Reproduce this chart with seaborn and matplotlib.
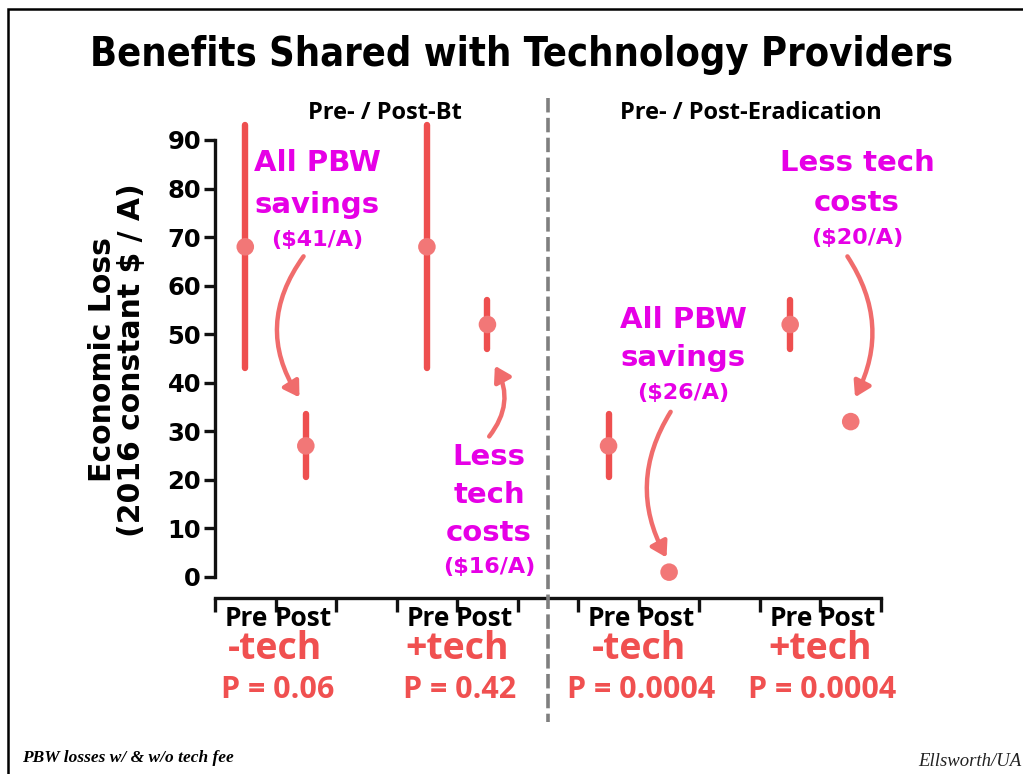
import matplotlib
matplotlib.use("Agg")
import matplotlib.pyplot as plt
import seaborn as sns
import pandas as pd
import numpy as np
from matplotlib.patches import FancyArrowPatch, Rectangle
from matplotlib.lines import Line2D

# ---- data -------------------------------------------------------------
periods = ["Pre- / Post-Bt", "Pre- / Post-Eradication"]
groups = ["-tech", "+tech", "-tech", "+tech"]
phases = ["Pre", "Post"]
loss_mean = [68, 27, 68, 52, 27, 1, 52, 32]
loss_err = [25, 6.5, 25, 5, 6.5, 0, 5, 0]
p_values = ["P = 0.06", "P = 0.42", "P = 0.0004", "P = 0.0004"]
y_ticks = [0, 10, 20, 30, 40, 50, 60, 70, 80, 90]

sns.set_theme(style="white")
plt.rcParams["font.family"] = ["DejaVu Sans"]
plt.rcParams["text.color"] = "black"
plt.rcParams["xtick.color"] = "black"
plt.rcParams["ytick.color"] = "black"

W, H = 1023, 774
fig = plt.figure(figsize=(W / 100, H / 100), dpi=100)

def fx(px):
    return px / W

def fy(py):
    return 1 - py / H

# axes placement: x from 215 to 881 px (0..11), y from 100 to 598 px
ax_left, ax_right, ax_top, ax_bot = 215, 881, 100, 598
ax = fig.add_axes([fx(ax_left), fy(ax_bot), (ax_right - ax_left) / W, (ax_bot - ax_top) / H])

px_per_unit = 4.856
ylo = -(ax_bot - 577) / px_per_unit
yhi = (577 - ax_top) / px_per_unit
ax.set_xlim(0, 11)
ax.set_ylim(ylo, yhi)

# x positions: each comparison occupies a block of three tick intervals
xpos = []
for g in range(len(groups)):
    for k in range(len(phases)):
        xpos.append(3 * g + 0.5 + k)

df = pd.DataFrame({
    "x": xpos,
    "loss": loss_mean,
    "err": loss_err,
})

bar_red = "#EE4F4F"
dot_red = "#F27777"

ax.vlines(df["x"], df["loss"] - df["err"], df["loss"] + df["err"],
          color=bar_red, lw=4.6, zorder=2, capstyle="round")
sns.scatterplot(data=df, x="x", y="loss", ax=ax, s=160, color=dot_red,
                edgecolor="none", zorder=3, legend=False)

# spines in the style of offset axes
for s in ["top", "right"]:
    ax.spines[s].set_visible(False)
ax.spines["left"].set_bounds(0, 90)
ax.spines["bottom"].set_bounds(0, 11)
for s in ["left", "bottom"]:
    ax.spines[s].set_linewidth(2.4)
    ax.spines[s].set_color("#111111")

ax.set_yticks(y_ticks)
ax.set_yticklabels([str(v) for v in y_ticks], fontsize=17.5, fontweight="bold")
ax.set_xticks(np.arange(0, 12))
ax.set_xticklabels([])
ax.tick_params(axis="y", direction="out", length=8, width=2.4, color="#111111", pad=2)
ax.tick_params(axis="x", direction="out", length=10, width=2.4, color="#111111")
ax.tick_params(left=True, bottom=True)
ax.set_xlabel("")
ax.set_ylabel("")
ax.patch.set_alpha(0)

# y-axis title
fig.text(fx(117), fy(360), "Economic Loss\n(2016 constant \\$ / A)", rotation=90,
         ha="center", va="center", fontsize=21.5, fontweight="bold", linespacing=1.0)

# title and period headers
cond_font = "Open Sans"
fig.text(fx(521), fy(55), "Benefits Shared with Technology Providers",
         ha="center", va="center", fontsize=28.5, fontweight="bold", fontstretch="condensed")
fig.text(fx(385), fy(113), periods[0], ha="center", va="center",
         fontsize=17, fontweight="bold", family=cond_font)
fig.text(fx(751), fy(113), periods[1], ha="center", va="center",
         fontsize=17, fontweight="bold", family=cond_font)

# divider between the two periods
fig.add_artist(Line2D([fx(548), fx(548)], [fy(98), fy(722)], color="#7f7f7f",
                      lw=2.6, ls=(0, (4, 1.5))))

# category labels under the axis
label_red = "#F05050"
for i, x in enumerate(xpos):
    px = ax_left + x * (ax_right - ax_left) / 11
    px += 1 if i % 2 == 0 else -3
    fig.text(fx(px), fy(619), phases[i % 2], ha="center", va="center",
             fontsize=19, fontweight="bold", family=cond_font)
for g, lab in enumerate(groups):
    cx = ax_left + (3 * g + 1) * (ax_right - ax_left) / 11
    fig.text(fx(cx), fy(649), lab, ha="center", va="center", color=label_red,
             fontsize=27, fontweight="bold", family=cond_font)
    fig.text(fx(cx + 2), fy(690), p_values[g], ha="center", va="center", color=label_red,
             fontsize=22, fontweight="bold", family=cond_font)

# magenta call-outs
mag = "#E600E6"
callouts = [
    (317, [(163, "All PBW", 21), (205, "savings", 21), (240, "(\\$41/A)", 16)]),
    (489, [(457, "Less", 21), (495, "tech", 21), (533, "costs", 21), (567, "(\\$16/A)", 16)]),
    (683, [(320, "All PBW", 21), (358, "savings", 21), (393, "(\\$26/A)", 16)]),
    (857, [(163, "Less tech", 21), (203, "costs", 21), (238, "(\\$20/A)", 16)]),
]
for cx, lines in callouts:
    for py, txt, fs in lines:
        fig.text(fx(cx), fy(py), txt, ha="center", va="center", color=mag,
                 fontsize=fs, fontweight="bold")

# curved arrows pointing from call-outs to the shifted points
arrow_col = "#F06C6C"
arrows = [
    ((1.49, 66.5), (1.42, 36.5), 0.35),
    ((4.50, 28.5), (4.60, 44.0), 0.35),
    ((7.55, 34.5), (7.48, 3.5), 0.30),
    ((10.42, 66.5), (10.55, 36.5), -0.30),
]
for (x0, y0), (x1, y1), rad in arrows:
    arr = FancyArrowPatch((x0, y0), (x1, y1), connectionstyle=f"arc3,rad={rad}",
                          arrowstyle="-|>,head_length=9,head_width=5.5",
                          color=arrow_col, lw=3.2, zorder=4, clip_on=False)
    ax.add_patch(arr)

# footer notes
fig.text(fx(22), fy(758), "PBW losses w/ & w/o tech fee", ha="left", va="center",
         fontsize=12.5, fontweight="bold", fontstyle="italic", family="Liberation Serif")
fig.text(fx(1021), fy(761), "Ellsworth/UA", ha="right", va="center",
         fontsize=13.5, fontstyle="italic", family="Liberation Serif", color="#222222")

# frame around the slide
fig.add_artist(Rectangle((fx(8), fy(800)), fx(1040), fy(9) - fy(800), fill=False,
                         ec="black", lw=1.8, transform=fig.transFigure))

fig.savefig("out.png", dpi=100)
